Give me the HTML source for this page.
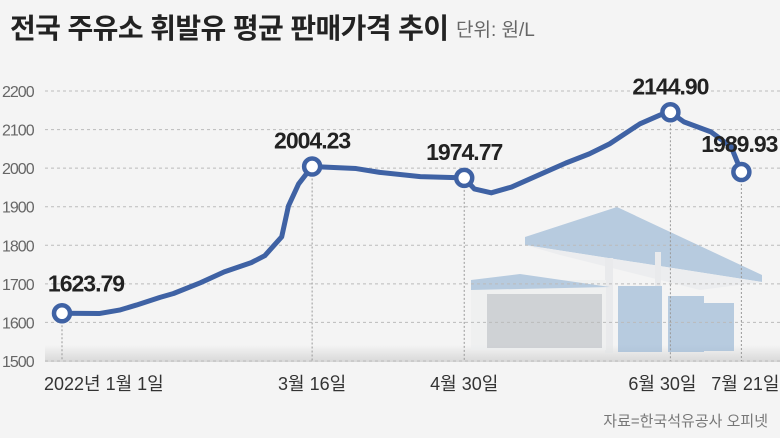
<!DOCTYPE html>
<html><head><meta charset="utf-8"><style>
body{margin:0;width:780px;height:438px;background:#f4f4f4;overflow:hidden;font-family:"Liberation Sans","Noto Sans CJK KR",sans-serif}
#t{position:absolute;left:10px;top:7px;font-size:28px;font-weight:bold;color:#222;letter-spacing:-0.6px}
#u{position:absolute;left:456px;top:15px;font-size:19px;color:#666}
#s{position:absolute;right:12px;top:410px;font-size:15px;color:#777}
</style></head><body>
<div id="t">전국 주유소 휘발유 평균 판매가격 추이</div>
<div id="u">단위: 원/L</div>
<div id="s">자료=한국석유공사 오피넷</div>
<svg id="c" width="780" height="438" style="position:absolute;left:0;top:0">
<defs><linearGradient id="g" x1="0" y1="0" x2="0" y2="1"><stop offset="0" stop-color="#f4f4f4"/><stop offset="1" stop-color="#d8d8d8"/></linearGradient></defs>
<rect x="45" y="345" width="735" height="17" fill="url(#g)"/>
<g opacity="0.6">
<polygon points="525,237 617,207 762,275 762,282 525,245" fill="#8fb0d2"/>
<polygon points="525,245 762,282 700,290 560,255" fill="#e8eaec"/>
<rect x="605" y="258" width="8" height="95" fill="#e3e5e7"/>
<rect x="655" y="252" width="6" height="100" fill="#e3e5e7"/>
<rect x="471" y="280" width="135" height="70" fill="#eceeef"/>
<polygon points="471,280 520,274 610,287 471,290" fill="#8fb0d2"/>
<rect x="487" y="294" width="115" height="54" fill="#b8bcc2"/>
<rect x="618" y="286" width="44" height="66" fill="#8fb0d2"/>
<rect x="668" y="296" width="36" height="56" fill="#8fb0d2"/>
<rect x="704" y="303" width="30" height="48" fill="#8fb0d2"/>
</g>
<g id="grid"></g><g id="lines"></g>
</svg>
<script>
const yTicks=[1500,1600,1700,1800,1900,2000,2100,2200];
const days=[0,11,17,22,29,33,41,48,56,60,65,67,70,74,82,87,94,106,119,122,127,133,141,149,156,162,171,177,180,184,192,198,201];
const prices=[1623.79,1623,1632,1645,1665,1675,1703,1731,1755,1773,1822,1902,1959,2004.23,2001,1999,1989,1978,1974.77,1946,1936,1951,1982,2013,2037,2063,2115,2138,2144.90,2120,2094,2055,1989.93];
const markDays=[0,74,119,180,201];
const markVals=[1623.79,2004.23,1974.77,2144.90,1989.93];
const markLabels=["1623.79","2004.23","1974.77","2144.90","1989.93"];
const xLabels=["2022년 1월 1일","3월 16일","4월 30일","6월 30일","7월 21일"];
const X=d=>62+d*3.38, Y=v=>361-(v-1500)*0.3857;
const NS="http://www.w3.org/2000/svg";
const grid=document.getElementById('grid'),L=document.getElementById('lines');
function mk(p,tag,a){const e=document.createElementNS(NS,tag);for(const k in a)e.setAttribute(k,a[k]);p.appendChild(e);return e;}
yTicks.forEach(v=>{
 const l=mk(grid,'line',{x1:45,x2:780,y1:Y(v),y2:Y(v),stroke:'#bbb','stroke-dasharray':'3,3'});
 
 
 const t=mk(grid,'text',{x:2,y:Y(v)+6,'font-size':16,fill:'#666','letter-spacing':'-1'});t.textContent=v;
 
 
});
markDays.forEach((d,i)=>{
 const l=mk(grid,'line',{x1:X(d),x2:X(d),y1:Y(markVals[i]),y2:361,stroke:'#999','stroke-dasharray':'2,2'});
 
 
 const xl=[X(d)-14,X(d),X(d),X(d)-8,X(d)+4][i];
 const t=mk(grid,'text',{x:xl,y:390,'font-size':18,fill:'#333','text-anchor':i==0?'start':'middle'});t.textContent=xLabels[i];
 if(i==0)t.setAttribute('x',44);
 
 
});
const p=mk(L,'polyline',{points:days.map((d,i)=>X(d)+','+Y(prices[i])).join(' '),fill:'none',stroke:'#3f62a4','stroke-width':5,'stroke-linejoin':'round','stroke-linecap':'round'});


markDays.forEach((d,i)=>{
 const c=mk(L,'circle',{cx:X(d),cy:Y(markVals[i]),r:8,fill:'#fff',stroke:'#3f62a4','stroke-width':4.5});
 
 
 const dx=[24,0,0,0,-2][i], dy=[-22,-18,-18,-18,-20][i];
 const t=mk(L,'text',{x:X(d)+dx,y:Y(markVals[i])+dy,'font-size':23,'font-weight':'bold',fill:'#222','text-anchor':'middle','letter-spacing':'-1'});t.textContent=markLabels[i];
 
 
});
</script>
</body></html>
